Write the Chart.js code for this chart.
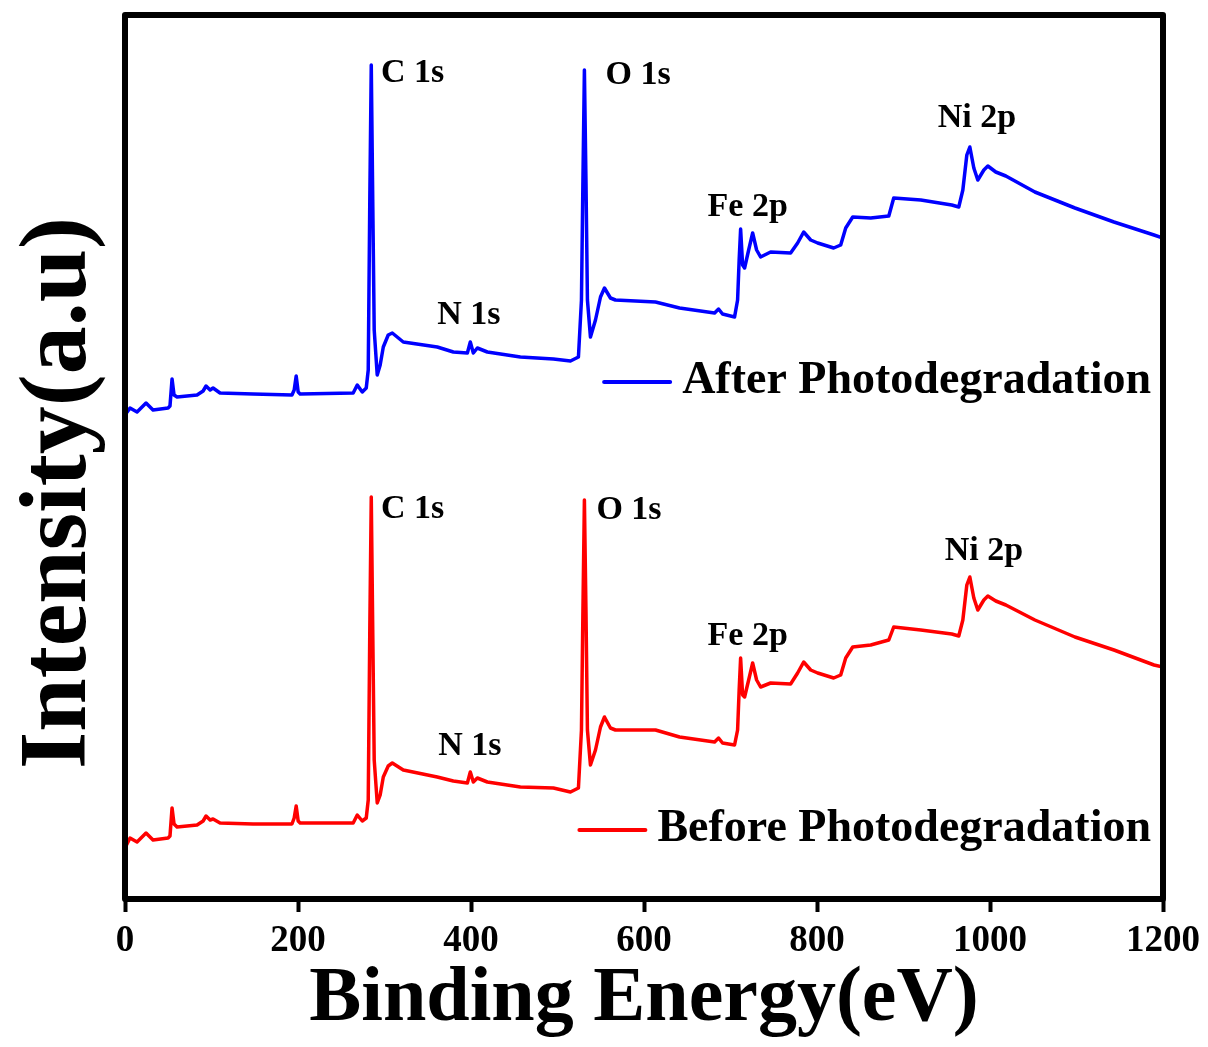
<!DOCTYPE html>
<html>
<head>
<meta charset="utf-8">
<title>XPS survey spectra</title>
<script src="https://cdn.jsdelivr.net/npm/chart.js@4.4.1/dist/chart.umd.min.js"></script>
<style>
  html, body { margin: 0; padding: 0; background: #fff; }
  #wrap { width: 1208px; height: 1047px; }
</style>
</head>
<body>
<div id="wrap"><canvas id="xps" width="1208" height="1047"></canvas></div>
<script>
// ---------------------------------------------------------------------------
// Data (binding energy in eV, intensity in a.u.)
// ---------------------------------------------------------------------------
const energy = [
  0, 5.8, 13.9, 24.3, 32.4, 49.8, 52, 54.4, 56.7, 60.2,
  83.3, 90.3, 93.7, 98.4, 101.8, 109.9, 148, 193, 195.6, 197.9,
  200.2, 202.5, 263.8, 268.5, 274.3, 278.9, 281.2, 283, 284.7, 286.4,
  288.1, 291.6, 295, 298.6, 304.3, 309, 321.7, 361, 379.6, 395.8,
  399.2, 402.7, 407.3, 418.9, 457.1, 495.3, 515, 524.2, 527.7, 529.4,
  531.1, 532.9, 534.6, 538.1, 543.9, 549.7, 554.3, 561.2, 567, 613.3,
  641.1, 681.6, 686.2, 690.8, 704.7, 708.2, 710, 711.7, 714, 716.3,
  721, 725.6, 730.2, 734.8, 746.4, 769.5, 777.6, 784.6, 792.7, 800.8,
  819.3, 827.4, 833.2, 841.3, 862.1, 883, 888.7, 920, 955.8, 963.9,
  968.6, 973.2, 976.7, 981.3, 985.9, 992.9, 997.5, 1006.7, 1018.3, 1051.9,
  1098.2, 1143.3, 1189.6, 1200
];

const afterPhoto = [
  484, 491, 487, 496, 489, 491, 493, 520, 504, 502,
  504, 508, 513, 509, 511, 506, 505, 504, 509, 523,
  507, 505, 506, 514, 507, 511, 529, 699, 834, 699,
  569, 524, 534, 552, 564, 566, 557, 552, 547, 546,
  557, 546, 551, 547, 542, 540, 538, 542, 599, 719,
  829, 719, 599, 562, 579, 602, 611, 601, 599, 597,
  591, 586, 590, 585, 582, 599, 639, 670, 634, 631,
  649, 666, 649, 642, 647, 646, 656, 667, 659, 656,
  651, 654, 671, 682, 681, 683, 701, 699, 694, 692,
  709, 744, 752, 731, 719, 729, 733, 727, 723, 707,
  691, 677, 664, 661
];

const beforePhoto = [
  51, 61, 57, 66, 59, 61, 63, 91, 75, 72,
  74, 78, 83, 79, 80, 76, 75, 75, 81, 93,
  78, 76, 76, 84, 78, 81, 99, 269, 402, 269,
  139, 96, 104, 122, 133, 136, 129, 122, 118, 116,
  127, 117, 121, 117, 112, 111, 107, 111, 169, 289,
  399, 289, 169, 134, 149, 172, 182, 171, 169, 169,
  162, 157, 161, 156, 154, 169, 209, 241, 204, 202,
  219, 236, 219, 212, 216, 215, 226, 237, 229, 226,
  221, 224, 241, 252, 254, 259, 272, 269, 265, 263,
  279, 314, 322, 301, 289, 299, 303, 298, 294, 279,
  262, 249, 234, 232
];

const seriesNames = ['After Photodegradation', 'Before Photodegradation'];
const peakNames = ['C 1s', 'O 1s', 'N 1s', 'Fe 2p', 'Ni 2p'];
const xTicks = [0, 200, 400, 600, 800, 1000, 1200];

// ---------------------------------------------------------------------------
// Styling / placement
// ---------------------------------------------------------------------------
const SERIF = "'Liberation Serif', 'Times New Roman', Times, serif";
const BLUE = '#0000ff';
const RED = '#ff0000';

// where each peak label sits, in data coords (left edge, vertical middle)
const peakLabelAnchors = [
  [[296, 826], [555.5, 824], [361, 584], [673.5, 692], [939.6, 781]],   // after
  [[296, 390], [545, 389], [362, 153], [673.5, 263], [947.7, 348]],     // before
];
// legend rows: vertical position in data coords
const legendRowsY = [518, 70];

const toXY = ys => energy.map((e, i) => ({ x: e, y: ys[i] }));

const whiteBg = {
  id: 'whiteBg',
  beforeDraw(chart) {
    const { ctx, width, height } = chart;
    ctx.save();
    ctx.fillStyle = '#fff';
    ctx.fillRect(0, 0, width, height);
    ctx.restore();
  },
};

const frameAndText = {
  id: 'frameAndText',
  afterDatasetsDraw(chart) {
    const { ctx, chartArea: a, scales: { x, y } } = chart;
    ctx.save();

    // peak labels
    ctx.fillStyle = '#000';
    ctx.font = `bold 34px ${SERIF}`;
    ctx.textAlign = 'left';
    ctx.textBaseline = 'middle';
    peakLabelAnchors.forEach(set => {
      set.forEach(([ex, iy], i) => {
        ctx.fillText(peakNames[i], x.getPixelForValue(ex), y.getPixelForValue(iy));
      });
    });

    // legend (one row next to each curve)
    ctx.font = `bold 46px ${SERIF}`;
    ctx.textAlign = 'right';
    chart.data.datasets.forEach((ds, i) => {
      const py = y.getPixelForValue(legendRowsY[i]);
      const right = a.right - 12;
      const w = ctx.measureText(ds.label).width;
      ctx.fillStyle = '#000';
      ctx.fillText(ds.label, right, py);
      ctx.strokeStyle = ds.borderColor;
      ctx.lineWidth = 4;
      ctx.lineCap = 'round';
      ctx.beginPath();
      ctx.moveTo(right - w - 78, py + 1);
      ctx.lineTo(right - w - 12, py + 1);
      ctx.stroke();
    });

    // box round the plot
    ctx.strokeStyle = '#000';
    ctx.lineWidth = 6;
    ctx.lineJoin = 'round';
    ctx.strokeRect(a.left, a.top, a.right - a.left, a.bottom - a.top);
    ctx.restore();
  },
};

new Chart(document.getElementById('xps'), {
  type: 'line',
  data: {
    datasets: [
      {
        label: seriesNames[0],
        data: toXY(afterPhoto),
        borderColor: BLUE,
        borderWidth: 3.5,
        pointRadius: 0,
        tension: 0,
        borderJoinStyle: 'round',
        fill: false,
      },
      {
        label: seriesNames[1],
        data: toXY(beforePhoto),
        borderColor: RED,
        borderWidth: 3.5,
        pointRadius: 0,
        tension: 0,
        borderJoinStyle: 'round',
        fill: false,
      },
    ],
  },
  options: {
    responsive: false,
    animation: false,
    layout: { padding: { top: 15, right: 45, left: 0, bottom: 0 } },
    plugins: {
      legend: { display: false },
      tooltip: { enabled: false },
    },
    scales: {
      x: {
        type: 'linear',
        min: 0,
        max: 1200,
        afterFit: s => { s.height = 148; },
        afterBuildTicks: s => { s.ticks = xTicks.map(v => ({ value: v })); },
        border: { display: false },
        grid: {
          drawOnChartArea: false,
          drawTicks: true,
          tickLength: 13,
          tickWidth: 4,
          tickColor: '#000',
        },
        ticks: {
          color: '#000',
          padding: 7,
          maxRotation: 0,
          callback: v => String(v),
          font: { family: SERIF, size: 37, weight: 'bold' },
        },
        title: {
          display: true,
          text: 'Binding Energy(eV)',
          color: '#000',
          padding: { top: 0, bottom: 0 },
          font: { family: SERIF, size: 78, weight: 'bold', lineHeight: 1.2 },
        },
      },
      y: {
        min: 0,
        max: 884,
        afterFit: s => { s.width = 125; },
        border: { display: false },
        grid: { display: false },
        ticks: { display: false },
        title: {
          display: true,
          // trailing spaces nudge the rotated title down, like the original
          text: 'Intensity(a.u)\u00a0\u00a0\u00a0',
          color: '#000',
          padding: { top: 3, bottom: 0 },
          font: { family: SERIF, size: 96, weight: 'bold', lineHeight: 1.2 },
        },
      },
    },
  },
  plugins: [whiteBg, frameAndText],
});
</script>
</body>
</html>
